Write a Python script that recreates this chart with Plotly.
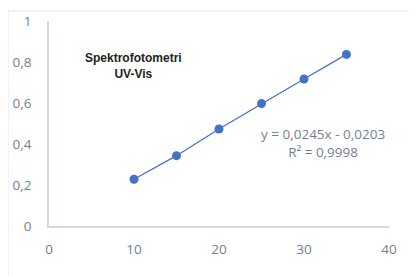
import plotly.graph_objects as go

concentration = [10, 15, 20, 25, 30, 35]
absorbance = [0.228, 0.343, 0.473, 0.597, 0.717, 0.837]
chart_title = "Spektrofotometri<br>UV-Vis"
equation = "y = 0,0245x - 0,0203"
r_squared = "R² = 0,9998"

fig = go.Figure()
fig.add_trace(go.Scatter(
    x=concentration, y=absorbance, mode="lines+markers",
    line=dict(color="#4472C4", width=1.3),
    marker=dict(color="#4472C4", size=9),
    showlegend=False,
))

font_fam = "Open Sans, Liberation Sans, sans-serif"
tick_col = "#738093"
fig.update_layout(
    width=417, height=276,
    margin=dict(l=41, r=36, t=13, b=58, autoexpand=False),
    paper_bgcolor="white", plot_bgcolor="white",
    separators=", ",
    font=dict(family=font_fam, color=tick_col, size=13),
    xaxis=dict(range=[0, 40], tickvals=[0, 10, 20, 30, 40], showgrid=False,
               zeroline=False, showline=True, linecolor="#D3D9E3", linewidth=1.5,
               ticks="", ticklen=0, ticklabelstandoff=10, automargin=False,
               tickfont=dict(size=13.5, color=tick_col)),
    yaxis=dict(range=[0, 1], tickvals=[0, 0.2, 0.4, 0.6, 0.8, 1], showgrid=False,
               zeroline=False, showline=True, linecolor="#D3D9E3", linewidth=1.5,
               ticks="", ticklabelstandoff=13, automargin=False,
               tickfont=dict(size=13.5, color=tick_col)),
    shapes=[
        dict(type="rect", xref="paper", yref="paper", x0=-0.1206, x1=1.3,
             y0=-0.5, y1=1.049, line=dict(color="#E3E7EC", width=1)),
        dict(type="line", xref="paper", yref="paper", x0=-0.11, x1=1.3,
             y0=1.1, y1=1.1, line=dict(color="#EEF0F3", width=1)),
    ],
    annotations=[
        dict(text="<b>" + chart_title + "</b>", x=0.248, y=0.78, xref="paper", yref="paper",
             xanchor="center", yanchor="middle", showarrow=False, align="center",
             font=dict(family="Liberation Sans Narrow, Liberation Sans, sans-serif", size=12, color="#222222")),
        dict(text=equation + "<br>" + r_squared, x=0.807, y=0.405, xref="paper", yref="paper",
             xanchor="center", yanchor="middle", showarrow=False, align="center",
             font=dict(family=font_fam, size=13.5, color=tick_col)),
    ],
)

fig.write_html("out.html")
